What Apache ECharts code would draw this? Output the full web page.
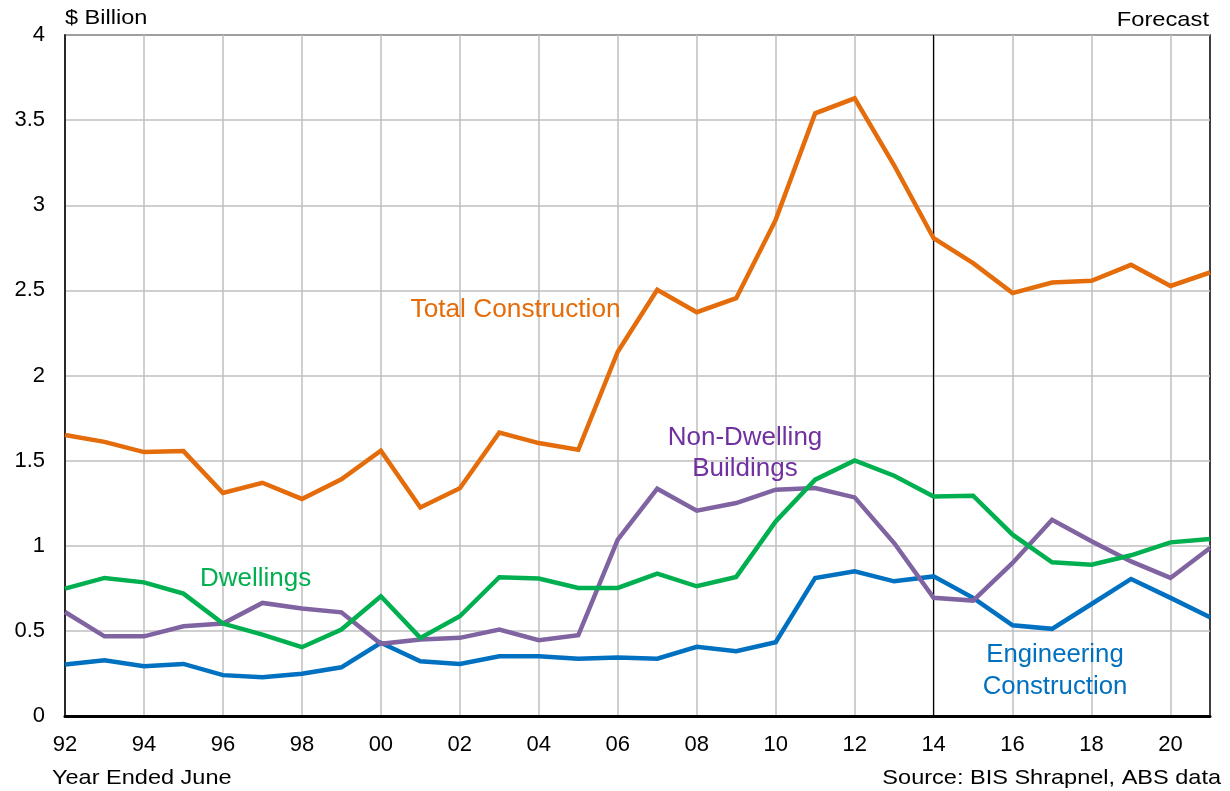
<!DOCTYPE html>
<html>
<head>
<meta charset="utf-8">
<script src="https://cdn.jsdelivr.net/npm/echarts@6/dist/echarts.min.js"></script>
<style>
  html, body { margin: 0; padding: 0; background: #fff; }
  #chart { width: 1230px; height: 791px; }
</style>
</head>
<body>
<div id="chart"></div>
<script>
// Years ended June, 1992–2021 (two-digit labels)
const years = ['92','93','94','95','96','97','98','99','00','01','02','03','04','05','06',
               '07','08','09','10','11','12','13','14','15','16','17','18','19','20','21'];

// $ Billion
const totalConstruction = [1.65, 1.61, 1.55, 1.556, 1.31, 1.37, 1.275, 1.39, 1.558, 1.225, 1.338, 1.665, 1.603, 1.564, 2.14,
                           2.503, 2.372, 2.454, 2.914, 3.54, 3.628, 3.235, 2.806, 2.66, 2.484, 2.546, 2.556, 2.65, 2.526, 2.605];
const dwellings = [0.748, 0.811, 0.785, 0.719, 0.543, 0.478, 0.404, 0.508, 0.703, 0.459, 0.586, 0.815, 0.807, 0.752, 0.752,
                   0.836, 0.762, 0.817, 1.143, 1.388, 1.501, 1.411, 1.29, 1.294, 1.065, 0.903, 0.889, 0.944, 1.02, 1.04];
const nonDwelling = [0.611, 0.468, 0.468, 0.527, 0.543, 0.664, 0.631, 0.609, 0.424, 0.449, 0.459, 0.508, 0.445, 0.474, 1.036,
                     1.335, 1.206, 1.251, 1.329, 1.339, 1.284, 1.016, 0.694, 0.678, 0.899, 1.153, 1.026, 0.908, 0.811, 0.987];
const engineering = [0.302, 0.327, 0.292, 0.306, 0.24, 0.228, 0.248, 0.286, 0.43, 0.322, 0.306, 0.351, 0.351, 0.337, 0.343,
                     0.337, 0.406, 0.38, 0.433, 0.811, 0.85, 0.791, 0.82, 0.694, 0.533, 0.512, 0.658, 0.805, 0.694, 0.58];

// First forecast year marker
const forecastStart = '14';

const FONT = '"Liberation Sans", Arial, sans-serif';
const COLORS = {
  total: '#E46C0A',
  dwell: '#00B050',
  nonDwell: '#8064A2',
  nonDwellText: '#7030A0',
  eng: '#0070C0'
};

function lineSeries(name, data, color, extra) {
  return Object.assign({
    name: name,
    type: 'line',
    data: data,
    symbol: 'none',
    lineStyle: { color: color, width: 4.5, join: 'miter' },
    itemStyle: { color: color },
    z: 3,
    animation: false
  }, extra || {});
}

// Free-standing text; the fonts are drawn slightly wide
function label(text, x, y, size, color, align, stretch, lineHeight) {
  return {
    type: 'text',
    x: x, y: y,
    scaleX: stretch,
    z: 10,
    style: {
      text: text,
      x: 0, y: 0,
      font: size + 'px ' + FONT,
      fill: color,
      textAlign: align,
      textVerticalAlign: 'top',
      lineHeight: lineHeight || size
    }
  };
}

const chart = echarts.init(document.getElementById('chart'), null, { renderer: 'canvas' });

chart.setOption({
  animation: false,
  grid: {
    left: 65, right: 20, top: 35, bottom: 75,
    show: true, borderColor: '#000', borderWidth: 1.5, backgroundColor: 'transparent'
  },
  xAxis: {
    type: 'category',
    data: years,
    boundaryGap: false,
    axisLine: { show: true, lineStyle: { color: '#000', width: 3 } },
    axisTick: { show: false },
    axisLabel: { interval: 1, color: '#000', fontSize: 22, fontFamily: FONT, margin: 18 },
    splitLine: { show: true, interval: 1, lineStyle: { color: '#BFBFBF', width: 1.5 } }
  },
  yAxis: {
    type: 'value',
    min: 0, max: 4, interval: 0.5,
    axisLine: { show: true, lineStyle: { color: '#000', width: 1.5 } },
    axisTick: { show: false },
    axisLabel: { color: '#000', fontSize: 22, fontFamily: FONT, margin: 20 },
    splitLine: { show: true, lineStyle: { color: '#BFBFBF', width: 1.5 } }
  },
  series: [
    lineSeries('Engineering Construction', engineering, COLORS.eng),
    lineSeries('Non-Dwelling Buildings', nonDwelling, COLORS.nonDwell),
    lineSeries('Dwellings', dwellings, COLORS.dwell),
    lineSeries('Total Construction', totalConstruction, COLORS.total, {
      markLine: {
        silent: true,
        symbol: 'none',
        label: { show: false },
        lineStyle: { color: '#000', width: 1.2, type: 'solid' },
        data: [{ xAxis: forecastStart }],
        z: 2
      }
    })
  ],
  graphic: [
    label('$ Billion', 65, 8, 21, '#000', 'left', 1.12),
    label('Forecast', 1209, 10, 21, '#000', 'right', 1.13),
    label('Year Ended June', 52, 768, 21, '#000', 'left', 1.12),
    label('Source: BIS Shrapnel, ABS data', 1221, 768, 21, '#000', 'right', 1.12),
    label('Total Construction', 410.5, 298, 25, COLORS.total, 'left', 1.05),
    label('Dwellings', 200, 567, 25, COLORS.dwell, 'left', 1.04),
    label('Non-Dwelling\nBuildings', 745, 423, 25, COLORS.nonDwellText, 'center', 1.04, 31),
    label('Engineering\nConstruction', 1055, 639.5, 25, COLORS.eng, 'center', 1.03, 31.7)
  ]
});
</script>
</body>
</html>
